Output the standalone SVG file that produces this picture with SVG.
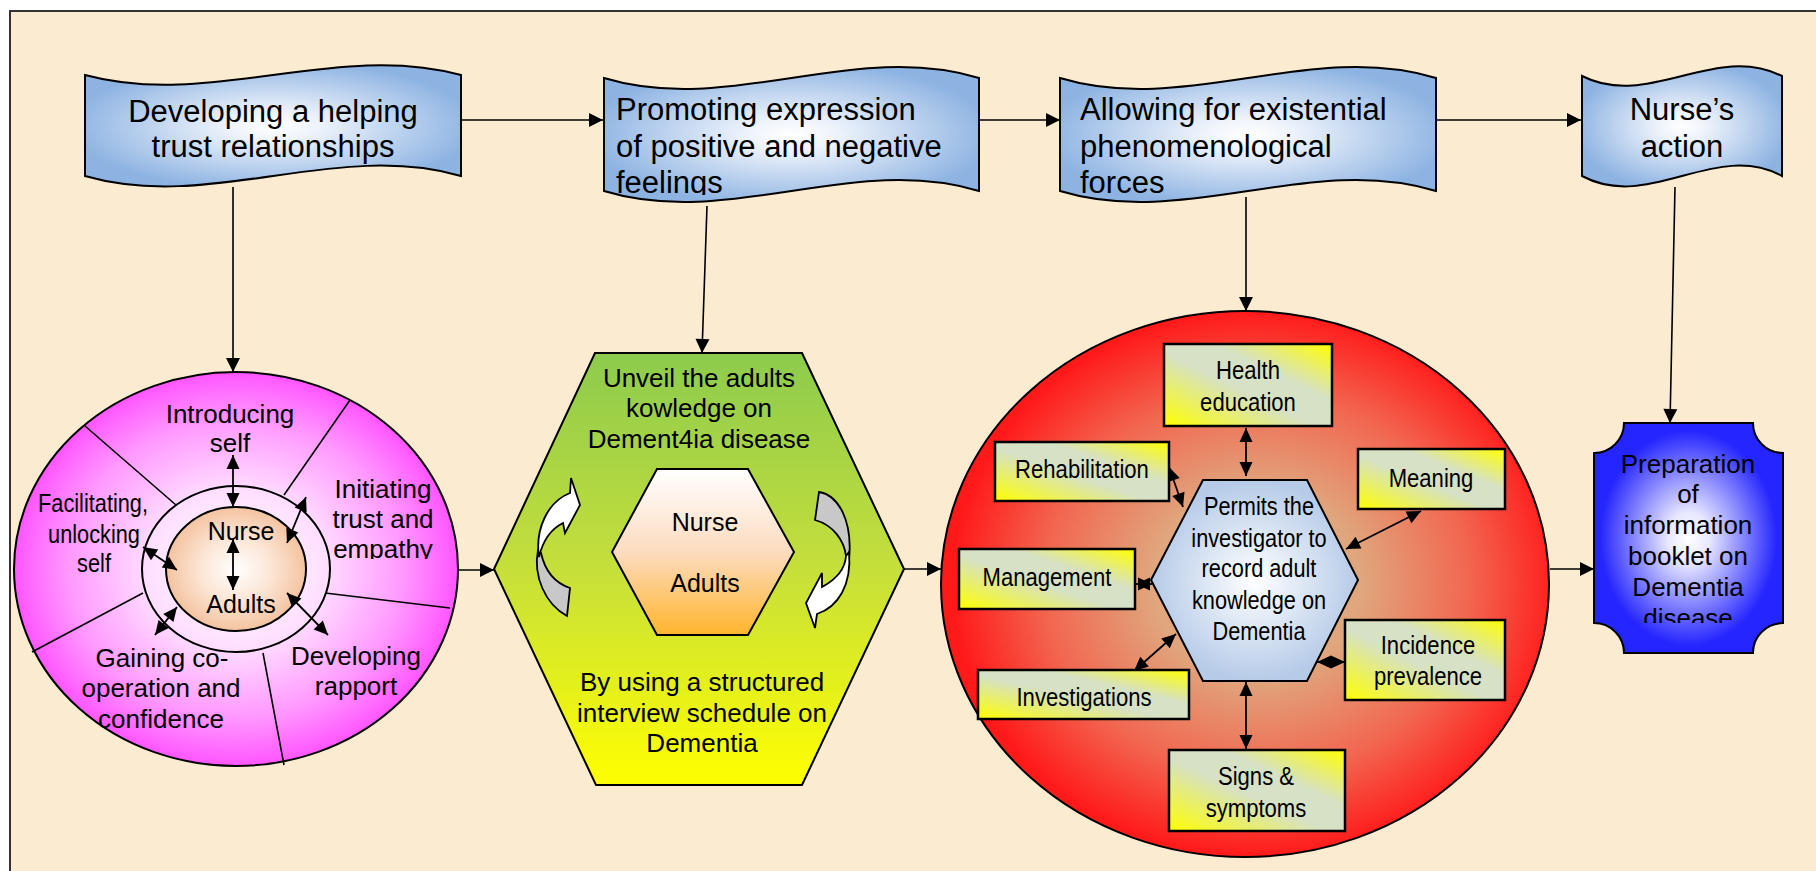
<svg xmlns="http://www.w3.org/2000/svg" width="1816" height="871" viewBox="0 0 1816 871">
<defs>
<style>
text{font-family:"Liberation Sans",Arial,sans-serif;fill:#000}
.t31{font-size:31px}
.t26{font-size:26px;text-anchor:middle}
.nar{font-size:25px;text-anchor:middle}
.rb{font-size:26px;text-anchor:middle}
.ln{stroke:#000;stroke-width:1.6;fill:none}
.ar{stroke:#000;stroke-width:1.6;fill:none;marker-end:url(#arr)}
.da{stroke:#000;stroke-width:1.8;fill:none;marker-start:url(#sm);marker-end:url(#sm)}
.box{fill:url(#gBox);stroke:#000;stroke-width:2.5}
.ban{fill:url(#gBan);stroke:#000;stroke-width:2}
</style>
<marker id="arr" markerUnits="userSpaceOnUse" markerWidth="16" markerHeight="16" viewBox="0 0 16 16" refX="15" refY="8" orient="auto"><path d="M1,1 L15,8 L1,15 z" fill="#000"/></marker>
<marker id="sm" markerUnits="userSpaceOnUse" markerWidth="16" markerHeight="16" viewBox="0 0 16 16" refX="15" refY="8" orient="auto-start-reverse"><path d="M1,1.5 L15,8 L1,14.5 z" fill="#000"/></marker>
<radialGradient id="gBan" cx="0.5" cy="0.5" r="0.6"><stop offset="0" stop-color="#FFFFFF"/><stop offset="0.2" stop-color="#EEF3FB"/><stop offset="0.9" stop-color="#8DB3E2"/></radialGradient>
<radialGradient id="gPink" cx="0.5" cy="0.5" r="0.5"><stop offset="0" stop-color="#FFFFFF"/><stop offset="0.4" stop-color="#FFDDFF"/><stop offset="0.75" stop-color="#FF99FF"/><stop offset="1" stop-color="#FF55FF"/></radialGradient>
<radialGradient id="gRing" cx="0.5" cy="0.5" r="0.5"><stop offset="0" stop-color="#FFFFFF"/><stop offset="1" stop-color="#FFDDFF"/></radialGradient>
<radialGradient id="gPeach" cx="0.5" cy="0.5" r="0.5"><stop offset="0" stop-color="#FFFFFF"/><stop offset="0.5" stop-color="#FCE6D6"/><stop offset="1" stop-color="#F4C3A0"/></radialGradient>
<linearGradient id="gGreen" x1="0" y1="0" x2="0" y2="1"><stop offset="0" stop-color="#8DCB4D"/><stop offset="0.5" stop-color="#C6DF3B"/><stop offset="1" stop-color="#FFFF00"/></linearGradient>
<linearGradient id="gInHex" x1="0" y1="0" x2="0" y2="1"><stop offset="0" stop-color="#FFFFFF"/><stop offset="0.5" stop-color="#FCDCC0"/><stop offset="1" stop-color="#FFB52C"/></linearGradient>
<radialGradient id="gRed" cx="0.52" cy="0.5" r="0.5"><stop offset="0" stop-color="#DDBB8E"/><stop offset="0.35" stop-color="#E0A57C"/><stop offset="0.7" stop-color="#F26650"/><stop offset="1" stop-color="#FF1A1A"/></radialGradient>
<radialGradient id="gHex" cx="0.5" cy="0.5" r="0.5"><stop offset="0" stop-color="#FFFFFF"/><stop offset="1" stop-color="#B6CBE8"/></radialGradient>
<linearGradient id="gBox" x1="0" y1="1" x2="1" y2="0"><stop offset="0" stop-color="#FFFF00"/><stop offset="0.45" stop-color="#D6E1C5"/><stop offset="0.65" stop-color="#D6E1C5"/><stop offset="1" stop-color="#FFFF00"/></linearGradient>
<radialGradient id="gBlue" cx="0.5" cy="0.5" r="0.55"><stop offset="0" stop-color="#FFFFFF"/><stop offset="0.2" stop-color="#E8E8FF"/><stop offset="0.85" stop-color="#2525FF"/></radialGradient>
<clipPath id="cB2"><rect x="600" y="60" width="390" height="135"/></clipPath>
<clipPath id="cEmp"><rect x="320" y="470" width="130" height="89"/></clipPath>
<clipPath id="cBlue"><rect x="1594" y="423" width="190" height="200"/></clipPath>
</defs>

<rect x="0" y="0" width="1816" height="871" fill="#FFFFFF"/>
<rect x="10" y="11" width="1806" height="860" fill="#FAEBD1"/>
<path d="M10,871 L10,11 L1816,11" fill="none" stroke="#333" stroke-width="2"/>

<g id="connectors">
<path class="ar" d="M459,120 L603,120"/>
<path class="ar" d="M969,120 L1060,120"/>
<path class="ar" d="M1436,120 L1581,120"/>
<path class="ar" d="M233,187 L233,372"/>
<path class="ar" d="M707,206 L702,353"/>
<path class="ar" d="M1246,197 L1246,311"/>
<path class="ar" d="M1675,187 L1670,423"/>
<path class="ar" d="M458,570 L494,570"/>
<path class="ar" d="M904,569 L941,569"/>
<path class="ar" d="M1550,569 L1594,569"/>
</g>

<g id="banner1">
<path class="ban" d="M85,75 C210,109 336,41 461,75 L461,176 C336,140 210,212 85,176 Z"/>
<text class="t31" x="273" y="122" text-anchor="middle">Developing a helping</text>
<text class="t31" x="273" y="157" text-anchor="middle">trust relationships</text>
</g>

<g id="banner2">
<path class="ban" d="M604,78 C729,116 854,40 979,78 L979,191 C854,153 729,229 604,191 Z"/>
<g clip-path="url(#cB2)">
<text class="t31" x="616" y="120">Promoting expression</text>
<text class="t31" x="616" y="157">of positive and negative</text>
<text class="t31" x="616" y="193">feelings</text>
</g>
</g>

<g id="banner3">
<path class="ban" d="M1060,78 C1185,116 1311,40 1436,78 L1436,191 C1311,153 1185,229 1060,191 Z"/>
<text class="t31" x="1080" y="120">Allowing for existential</text>
<text class="t31" x="1080" y="157">phenomenological</text>
<text class="t31" x="1080" y="193">forces</text>
</g>

<g id="banner4">
<path class="ban" d="M1582,76 C1649,110 1715,42 1782,76 L1782,176 C1715,140 1649,212 1582,176 Z"/>
<text class="t31" x="1682" y="120" text-anchor="middle">Nurse’s</text>
<text class="t31" x="1682" y="157" text-anchor="middle">action</text>
</g>

<g id="pink-circle">
<ellipse cx="236" cy="569" rx="222" ry="197" fill="url(#gPink)" stroke="#000" stroke-width="2"/>
<path class="ln" d="M85,426 L176,505 M350,400 L284,495 M450,608 L325,593 M284,765 L263,653 M32,652 L143,593"/>
<ellipse cx="236" cy="569" rx="94" ry="83" fill="url(#gRing)" stroke="#000" stroke-width="2"/>
<ellipse cx="236" cy="569" rx="70" ry="62" fill="url(#gPeach)" stroke="#000" stroke-width="2"/>
<text class="t26" x="230" y="423">Introducing</text>
<text class="t26" x="230" y="452">self</text>
<g clip-path="url(#cEmp)">
<text class="t26" x="383" y="498">Initiating</text>
<text class="t26" x="383" y="528">trust and</text>
<text class="t26" x="383" y="558">empathy</text>
</g>
<text class="nar" transform="translate(93,512) scale(0.87,1)">Facilitating,</text>
<text class="nar" transform="translate(94,543) scale(0.87,1)">unlocking</text>
<text class="nar" transform="translate(94,572) scale(0.87,1)">self</text>
<text class="t26" x="241" y="540" style="font-size:25px">Nurse</text>
<text class="t26" x="241" y="613" style="font-size:25px">Adults</text>
<text class="t26" x="162" y="667">Gaining co-</text>
<text class="t26" x="161" y="697">operation and</text>
<text class="t26" x="161" y="728">confidence</text>
<text class="t26" x="356" y="665">Developing</text>
<text class="t26" x="356" y="695">rapport</text>
<path class="da" d="M233,455 L233,507"/>
<path class="da" d="M233,539 L233,590"/>
<path class="da" d="M306,497 L287,543"/>
<path class="da" d="M143,547 L177,570"/>
<path class="da" d="M177,607 L155,635"/>
<path class="da" d="M287,593 L328,635"/>
</g>

<g id="green-hexagon">
<path d="M595,353 L802,353 L904,569 L802,785 L596,785 L494,569 Z" fill="url(#gGreen)" stroke="#000" stroke-width="2"/>
<text class="t26" x="699" y="387">Unveil the adults</text>
<text class="t26" x="699" y="417">kowledge on</text>
<text class="t26" x="699" y="448">Dement4ia disease</text>
<path d="M657,469 L748,469 L794,552 L748,635 L657,635 L612,552 Z" fill="url(#gInHex)" stroke="#000" stroke-width="2"/>
<text class="t26" x="705" y="531" style="font-size:25px">Nurse</text>
<text class="t26" x="705" y="592" style="font-size:25px">Adults</text>
<path d="M538,550 C533,576 545,604 567,616 L570,588 C555,583 545,571 541,553 Z" fill="#C8C8C8" stroke="#000" stroke-width="1.8"/>
<path d="M571,478 L580,505 L565,533 L563,523 C551,529 543,540 539,557 C535,530 547,502 570,493 Z" fill="#FFFFFF" stroke="#000" stroke-width="1.8"/>
<path d="M819,492 C838,495 853,520 849,560 L846,556 C844,540 833,525 815,520 Z" fill="#C8C8C8" stroke="#000" stroke-width="1.8"/>
<path d="M849,552 C852,585 838,607 817,614 L815,628 L806,603 L822,573 L822,587 C835,580 845,570 846,556 Z" fill="#FFFFFF" stroke="#000" stroke-width="1.8"/>
<text class="t26" x="702" y="691">By using a structured</text>
<text class="t26" x="702" y="722">interview schedule on</text>
<text class="t26" x="702" y="752">Dementia</text>
</g>

<g id="red-ellipse">
<ellipse cx="1245" cy="584" rx="304" ry="273" fill="url(#gRed)" stroke="#000" stroke-width="2"/>
<path d="M1203,480 L1307,480 L1358,580 L1307,681 L1203,681 L1151,580 Z" fill="url(#gHex)" stroke="#000" stroke-width="2"/>
<text class="nar" transform="translate(1259,515) scale(0.87,1)">Permits the</text>
<text class="nar" transform="translate(1259,547) scale(0.87,1)">investigator to</text>
<text class="nar" transform="translate(1259,577) scale(0.87,1)">record adult</text>
<text class="nar" transform="translate(1259,609) scale(0.87,1)">knowledge on</text>
<text class="nar" transform="translate(1259,640) scale(0.87,1)">Dementia</text>
<path class="da" d="M1246,428 L1246,476"/>
<path class="da" d="M1169,467 L1183,507"/>
<path class="da" d="M1421,511 L1346,549"/>
<path class="da" d="M1136,584 L1152,584"/>
<path class="da" d="M1134,671 L1176,634"/>
<path class="da" d="M1345,662 L1317,662"/>
<path class="da" d="M1246,682 L1246,749"/>
</g>

<g id="box-health">
<rect class="box" x="1164" y="344" width="168" height="82"/>
<text class="rb" transform="translate(1248,379) scale(0.85,1)">Health</text>
<text class="rb" transform="translate(1248,411) scale(0.85,1)">education</text>
</g>
<g id="box-rehab">
<rect class="box" x="995" y="442" width="174" height="59"/>
<text class="rb" transform="translate(1082,478) scale(0.85,1)">Rehabilitation</text>
</g>
<g id="box-meaning">
<rect class="box" x="1358" y="449" width="147" height="60"/>
<text class="rb" transform="translate(1431,487) scale(0.85,1)">Meaning</text>
</g>
<g id="box-management">
<rect class="box" x="959" y="549" width="176" height="60"/>
<text class="rb" transform="translate(1047,586) scale(0.85,1)">Management</text>
</g>
<g id="box-investigations">
<rect class="box" x="978" y="670" width="211" height="49"/>
<text class="rb" transform="translate(1084,706) scale(0.85,1)">Investigations</text>
</g>
<g id="box-incidence">
<rect class="box" x="1345" y="620" width="160" height="80"/>
<text class="rb" transform="translate(1428,654) scale(0.85,1)">Incidence</text>
<text class="rb" transform="translate(1428,685) scale(0.85,1)">prevalence</text>
</g>
<g id="box-signs">
<rect class="box" x="1169" y="750" width="176" height="81"/>
<text class="rb" transform="translate(1256,785) scale(0.85,1)">Signs &amp;</text>
<text class="rb" transform="translate(1256,817) scale(0.85,1)">symptoms</text>
</g>

<g id="booklet">
<path d="M1624,423 L1753,423 A30,30 0 0 0 1783,453 L1783,623 A30,30 0 0 0 1753,653 L1624,653 A30,30 0 0 0 1594,623 L1594,453 A30,30 0 0 0 1624,423 Z" fill="url(#gBlue)" stroke="#000" stroke-width="2"/>
<g clip-path="url(#cBlue)">
<text class="t26" x="1688" y="473">Preparation</text>
<text class="t26" x="1688" y="503">of</text>
<text class="t26" x="1688" y="534">information</text>
<text class="t26" x="1688" y="565">booklet on</text>
<text class="t26" x="1688" y="596">Dementia</text>
<text class="t26" x="1688" y="627">disease</text>
</g>
</g>
</svg>
